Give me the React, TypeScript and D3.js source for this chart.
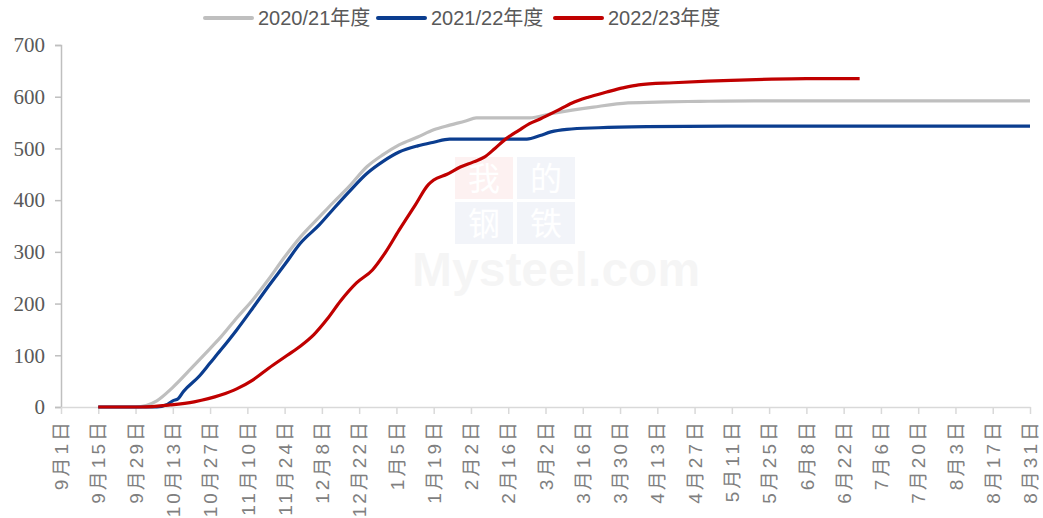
import { useEffect, useRef } from "react";
import * as d3 from "d3";

// day offsets from Sep 1, cumulative values
const tickLabels = [
  "9月1日", "9月15日", "9月29日", "10月13日", "10月27日", "11月10日", "11月24日",
  "12月8日", "12月22日", "1月5日", "1月19日", "2月2日", "2月16日", "3月2日",
  "3月16日", "3月30日", "4月13日", "4月27日", "5月11日", "5月25日", "6月8日",
  "6月22日", "7月6日", "7月20日", "8月3日", "8月17日", "8月31日",
];
const yTicks = [0, 100, 200, 300, 400, 500, 600, 700];

const season2021: [number, number][] = [
  [14, 0], [28, 0], [32, 3], [36, 12], [42, 38], [49, 75], [56, 113], [60, 135],
  [66, 172], [72, 207], [78, 247], [84, 290], [90, 329], [97, 367], [102, 394],
  [108, 425], [115, 465], [121, 488], [127, 507], [134, 522], [140, 536],
  [146, 545], [152, 553], [156, 559], [176, 559], [184, 567], [192, 574],
  [200, 580], [213, 588], [227, 590], [240, 591], [260, 592], [300, 592], [364, 592],
];
const season2122: [number, number][] = [
  [14, 0], [36, 0], [40, 5], [42, 12], [44, 16], [46, 30], [52, 60], [56, 85],
  [60, 110], [66, 149], [72, 191], [78, 234], [84, 275], [90, 317], [97, 352],
  [102, 381], [108, 415], [115, 452], [121, 475], [127, 493], [134, 505],
  [140, 512], [146, 518], [175, 518], [180, 525], [184, 532], [190, 537],
  [202, 540], [220, 542], [250, 543], [364, 543],
];
const season2223: [number, number][] = [
  [14, 0], [30, 0], [41, 4], [50, 10], [60, 23], [66, 35], [72, 52], [78, 75],
  [85, 100], [90, 118], [95, 140], [100, 170], [105, 205], [111, 240],
  [117, 265], [122, 300], [127, 342], [133, 390], [138, 430], [140, 439],
  [145, 450], [150, 464], [155, 474], [159, 483], [163, 500], [167, 518],
  [172, 535], [176, 548], [180, 557], [186, 572], [192, 588], [198, 599],
  [205, 609], [211, 617], [217, 623], [230, 627], [243, 630], [255, 632],
  [267, 634], [280, 635], [300, 635],
];

const seriesNames = ["2020/21年度", "2021/22年度", "2022/23年度"];
const seriesColors = ["#bfbfbf", "#0b3d8f", "#c00000"];

const Chart = () => {
  const svgRef = useRef<SVGSVGElement | null>(null);

  useEffect(() => {
    const svg = d3.select(svgRef.current);
    svg.selectAll("*").remove();

    const left = 61;
    const right = 1030;
    const top = 45;
    const bottom = 407;

    const x = d3.scaleLinear().domain([0, 364]).range([left, right]);
    const y = d3.scaleLinear().domain([0, 700]).range([bottom, top]);

    // faint watermark
    const wm = svg.append("g").attr("opacity", 0.05);
    const boxes = [
      { c: "我", col: 0, row: 0, fill: "#e00000" },
      { c: "的", col: 1, row: 0, fill: "#1f3f9f" },
      { c: "钢", col: 0, row: 1, fill: "#1f3f9f" },
      { c: "铁", col: 1, row: 1, fill: "#1f3f9f" },
    ];
    boxes.forEach((b) => {
      wm.append("rect")
        .attr("x", 455 + b.col * 62)
        .attr("y", 157 + b.row * 45)
        .attr("width", 58)
        .attr("height", 42)
        .attr("fill", b.fill);
      wm.append("text")
        .attr("x", 484 + b.col * 62)
        .attr("y", 190 + b.row * 45)
        .attr("text-anchor", "middle")
        .attr("font-family", "Noto Sans CJK SC")
        .attr("font-size", 32)
        .attr("fill", "#ffffff")
        .text(b.c);
    });
    wm.append("text")
      .attr("x", 412)
      .attr("y", 286)
      .attr("font-family", "Liberation Sans, Arial")
      .attr("font-weight", "bold")
      .attr("font-size", 48)
      .attr("fill", "#555")
      .text("Mysteel.com");

    // y axis
    const yAxis = d3.axisLeft(y).tickValues(yTicks).tickSize(6).tickPadding(10);
    const gy = svg.append("g").attr("transform", `translate(${left},0)`).call(yAxis);
    gy.selectAll(".domain").attr("stroke", "#bfbfbf").attr("stroke-width", 1.5);
    gy.selectAll(".tick line").attr("stroke", "#bfbfbf").attr("stroke-width", 1.5);
    gy.selectAll("text")
      .attr("font-family", "Liberation Serif, Times New Roman, serif")
      .attr("font-size", 21)
      .attr("fill", "#595959");

    // x axis
    const tickDays = tickLabels.map((_, i) => i * 14);
    const xAxis = d3
      .axisBottom(x)
      .tickValues(tickDays)
      .tickSize(7)
      .tickSizeOuter(0)
      .tickFormat((_, i) => tickLabels[i]);
    const gx = svg.append("g").attr("transform", `translate(0,${bottom})`).call(xAxis);
    gx.selectAll(".domain").attr("stroke", "#d9d9d9").attr("stroke-width", 1.5);
    gx.selectAll(".tick line").attr("stroke", "#d9d9d9").attr("stroke-width", 1.5);
    gx.selectAll("text")
      .attr("font-family", "Liberation Sans, Arial, Noto Sans CJK SC, sans-serif")
      .attr("font-size", 19)
      .attr("letter-spacing", 3)
      .attr("fill", "#7f7f7f")
      .attr("text-anchor", "end")
      .attr("dy", "0.35em")
      .attr("transform", "translate(0,4) rotate(-90)")
      .attr("x", -8)
      .attr("y", 0);

    // lines
    const line = d3
      .line<[number, number]>()
      .x((d) => x(d[0]))
      .y((d) => y(d[1]))
      .curve(d3.curveMonotoneX);

    [season2021, season2122, season2223].forEach((data, i) => {
      svg.append("path")
        .datum(data)
        .attr("fill", "none")
        .attr("stroke", seriesColors[i])
        .attr("stroke-width", 3.2)
        .attr("stroke-linejoin", "round")
        .attr("d", line);
    });

    // legend
    const legendX = [205, 378, 555];
    seriesNames.forEach((name, i) => {
      const lg = svg.append("g").attr("transform", `translate(${legendX[i]},18)`);
      lg.append("line")
        .attr("x1", 0)
        .attr("x2", 47)
        .attr("y1", 0)
        .attr("y2", 0)
        .attr("stroke", seriesColors[i])
        .attr("stroke-width", 4)
        .attr("stroke-linecap", "round");
      lg.append("text")
        .attr("x", 53)
        .attr("y", 0)
        .attr("dy", "0.35em")
        .attr("font-family", "Liberation Sans Narrow, Liberation Sans, Noto Sans CJK SC, sans-serif")
        .attr("font-size", 20)
        .attr("fill", "#595959")
        .text(name);
    });
  }, []);

  return (
    <svg
      ref={svgRef}
      width={1043}
      height={518}
      style={{ position: "absolute", left: 0, top: 0, background: "#fff" }}
    />
  );
};

export default function App() {
  return <Chart />;
}
